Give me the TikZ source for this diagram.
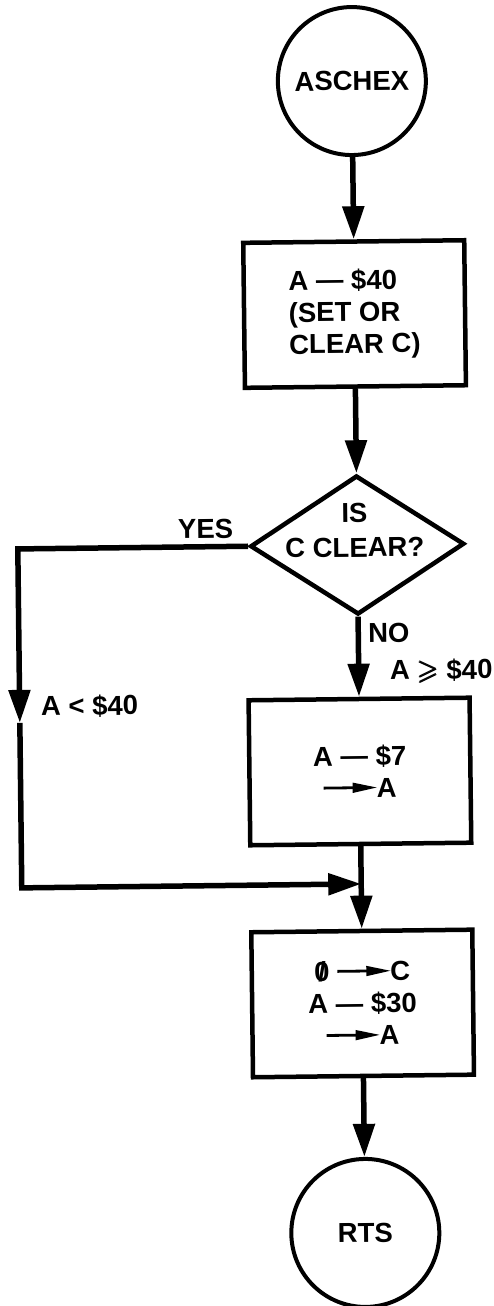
\documentclass[tikz,border=0pt]{standalone}
\usepackage{fontspec}
\usepackage{amsmath}
\usepackage{amssymb}
\setmainfont{Liberation Sans}
\usetikzlibrary{shapes.geometric,arrows.meta}
\newcommand{\harr}{\tikz[baseline=0pt,x=1pt,y=1pt]{\fill (0,8.6) rectangle (32,11.4); \fill (29,4.8) -- (53,10) -- (29,15.2) -- cycle;}}
\newcommand{\slz}{\ooalign{0\cr\hidewidth/\hidewidth\cr}}
\begin{document}
\begin{tikzpicture}[x=1pt,y=-1pt,
  every node/.style={font=\fontsize{27.5}{32}\selectfont\bfseries},
  term/.style={circle,draw,line width=4pt,minimum size=148pt,inner sep=0pt},
  proc/.style={rectangle,draw,line width=4.5pt,minimum width=221pt,minimum height=145pt,inner sep=0pt},
  dec/.style={diamond,draw,line width=4.5pt,minimum width=214pt,minimum height=139pt,inner sep=0pt},
  conn/.style={line width=5.5pt,-{Triangle[length=33pt,width=21pt]}},
  lbl/.style={inner sep=0pt}]
\useasboundingbox (0,0) rectangle (494,1306);
\begin{scope}[rotate around={0.67:(358,650)}, transform shape]
\node[term] (start) at (358.5,81) {ASCHEX};
\node[proc,align=left] (p1) at (358.5,314) {A — \$40\\(SET OR\\CLEAR C)};
\node[dec] (d) at (358.5,545) {};
\node[lbl,align=center,font=\fontsize{27.5}{35}\selectfont\bfseries] (dq) at (356,530) {IS\\C CLEAR?};
\node[proc,align=center] (p2) at (358.5,771.5) {A — \$7\\\harr A};
\node[proc,align=center] (p3) at (358.5,1003.5) {\slz\ \harr C\\A — \$30\\\harr A};
\node[term] (end) at (358.5,1233) {RTS};
\node[lbl] (yes) at (207,527) {YES};
\node[lbl] (no) at (389,633) {NO};
\node[lbl] (ge) at (441,672) {A $\pmb{\geqslant}$ \$40};
\node[lbl] (lt) at (89,703) {A < \$40};
\coordinate (amid) at (19,719);
\coordinate (merge) at (358.5,884);
\draw[conn] (start) -- (p1);
\draw[conn] (p1) -- (d);
\draw[conn] (d) -- (p2);
\draw[conn] (d.west) -| (amid);
\draw[conn] (amid) |- (merge);
\draw[conn] (p2) -- (p3);
\draw[conn] (p3) -- (end);
\end{scope}
\end{tikzpicture}
\end{document}
